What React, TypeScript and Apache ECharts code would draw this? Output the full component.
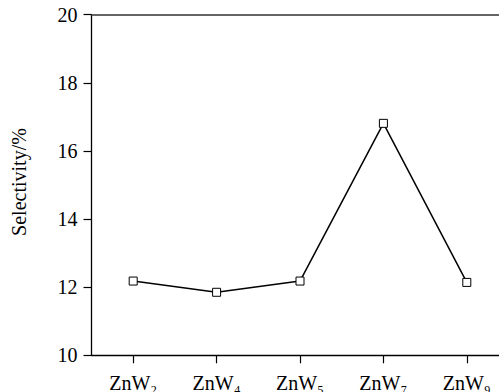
import React, { useEffect, useRef } from "react";
import * as echarts from "echarts";

// Catalyst samples (ZnW_n) and their selectivity in %
const sampleLabels = ["ZnW₂", "ZnW₄", "ZnW₅", "ZnW₇", "ZnW₉"];
const selectivity = [12.18, 11.85, 12.18, 16.81, 12.14];
const yTicks = { min: 10, max: 20, interval: 2 };
const yTitle = "Selectivity/%";

const FONT = "Liberation Serif";
const INK = "black";

export default function App() {
  const ref = useRef<HTMLDivElement>(null);

  useEffect(() => {
    if (!ref.current) return;
    const chart = echarts.init(ref.current, null, { renderer: "svg" });

    chart.setOption({
      animation: false,
      backgroundColor: "#ffffff",
      grid: {
        left: 91.5,
        top: 14.7,
        width: 417,
        height: 340.6,
        outerBoundsMode: "none",
      },
      // vertical axis title, reading bottom-to-top
      graphic: [
        {
          type: "text",
          x: 19,
          y: 182,
          rotation: Math.PI / 2,
          style: {
            text: yTitle,
            x: 0,
            y: 0,
            align: "center",
            verticalAlign: "middle",
            fontFamily: FONT,
            fontSize: 20,
            fill: INK,
          },
        },
      ],
      xAxis: [
        {
          type: "category",
          data: sampleLabels,
          boundaryGap: true,
          axisLine: { lineStyle: { color: INK, width: 1.3 } },
          axisTick: { show: true, alignWithLabel: true, interval: 0, length: 8, lineStyle: { color: INK, width: 1.2 } },
          axisLabel: { interval: 0, margin: 18, fontFamily: FONT, fontSize: 20, color: INK },
          splitLine: { show: false },
        },
        {
          type: "category",
          position: "top",
          data: sampleLabels,
          axisLine: { lineStyle: { color: "#333", width: 1.5 } },
          axisTick: { show: false },
          axisLabel: { show: false },
        },
      ],
      yAxis: {
        type: "value",
        min: yTicks.min,
        max: yTicks.max,
        interval: yTicks.interval,
        axisLine: { show: true, lineStyle: { color: INK, width: 1.3 } },
        axisTick: { show: true, length: 8, lineStyle: { color: INK, width: 1.2 } },
        axisLabel: { fontFamily: FONT, fontSize: 20, margin: 14, color: INK },
        splitLine: { show: false },
      },
      series: [
        {
          type: "line",
          data: selectivity,
          symbol: "rect",
          symbolSize: 8,
          lineStyle: { color: INK, width: 1.5 },
          itemStyle: { color: "#fff", borderColor: INK, borderWidth: 1 },
        },
      ],
    });

    return () => chart.dispose();
  }, []);

  return (
    <div
      ref={ref}
      style={{ position: "fixed", left: 0, top: 0, width: 499, height: 392, background: "#fff" }}
    />
  );
}
